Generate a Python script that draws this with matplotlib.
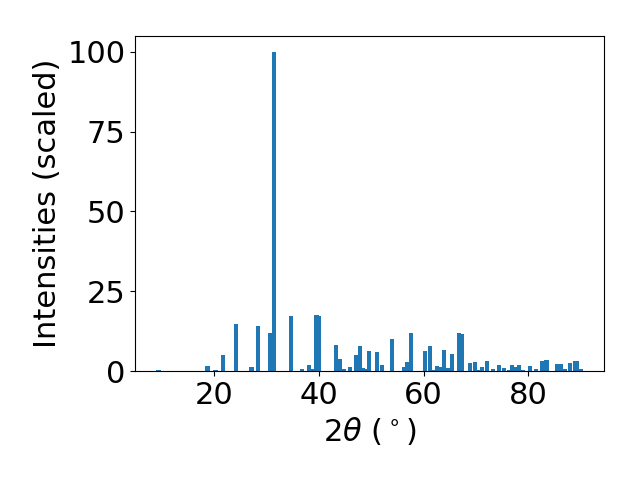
import matplotlib
matplotlib.use("Agg")
import matplotlib.pyplot as plt

# peak positions (2theta, degrees) and scaled intensities
two_theta = [9.43, 18.8, 20.3, 21.7, 24.3, 27.2, 28.35, 30.8, 31.4, 34.65,
             36.76, 38.1, 38.86, 39.6, 40.1, 43.26, 44.03, 44.8, 45.93, 47.08,
             47.84, 48.5, 49.0, 49.56, 51.09, 52.14, 53.96, 56.3, 56.8, 57.59,
             60.3, 61.3, 61.9, 62.56, 63.4, 63.9, 64.6, 65.43, 66.8, 67.33,
             68.86, 69.82, 70.5, 71.16, 72.11, 73.26, 74.41, 75.3, 76.3, 76.89,
             77.6, 78.23, 78.99, 80.33, 81.4, 82.62, 83.48, 85.49, 86.3, 87.0,
             87.88, 88.93, 89.3, 90.0]
intensity = [0.3, 1.6, 0.4, 5.0, 14.8, 1.3, 14.2, 12.0, 100.0, 17.3,
             0.6, 1.9, 0.6, 17.6, 17.3, 8.2, 3.8, 0.6, 1.3, 5.0,
             7.9, 0.9, 0.6, 6.3, 6.0, 1.9, 10.1, 1.3, 2.8, 12.0,
             6.3, 7.9, 0.3, 1.6, 1.3, 6.6, 0.9, 5.3, 12.0, 11.6,
             2.5, 2.8, 0.3, 1.3, 3.1, 0.6, 1.9, 0.9, 0.3, 1.9,
             1.3, 1.9, 0.3, 1.6, 0.6, 3.1, 3.4, 2.2, 2.2, 0.6,
             2.5, 3.1, 3.1, 0.6]

fig, ax = plt.subplots(figsize=(6.4, 4.8), dpi=100)
ax.bar(two_theta, intensity, width=0.8, color='#1f77b4')
ax.set_xlabel(r'2$\theta$ ($^\circ$)', fontsize=22)
ax.set_ylabel('Intensities (scaled)', fontsize=22)
ax.set_xticks([20, 40, 60, 80])
ax.set_yticks([0, 25, 50, 75, 100])
ax.tick_params(labelsize=22)
plt.subplots_adjust(left=0.211, right=0.944, top=0.925, bottom=0.227)
plt.savefig('out.png')
